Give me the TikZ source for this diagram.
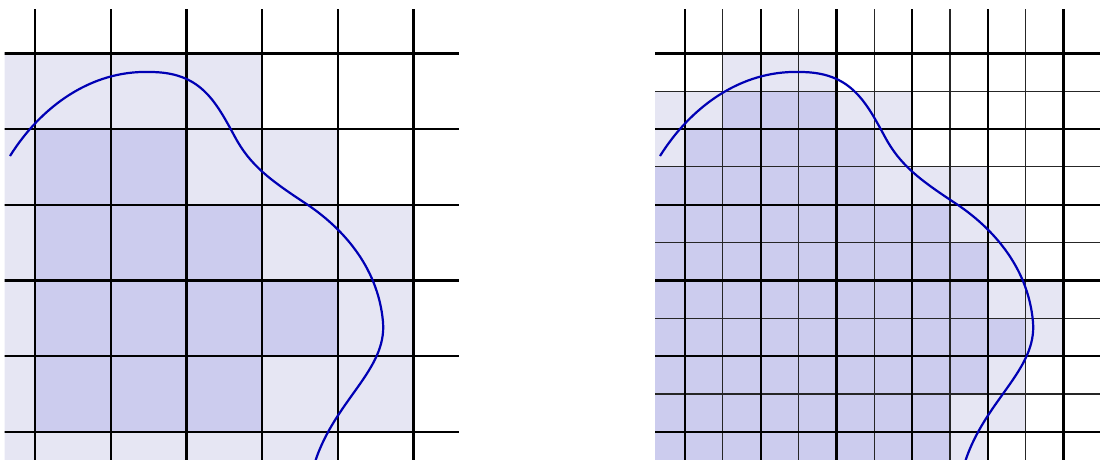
\documentclass[tikz,border=0pt]{standalone}
\definecolor{lightc}{RGB}{230,230,243}
\definecolor{darkc}{RGB}{204,204,238}
\definecolor{curvec}{RGB}{0,0,180}
\tikzset{
  thickgrid/.style={line width=2.4pt, black},
  thingrid/.style={line width=1.1pt, black!85},
  jcurve/.style={line width=2.2pt, curvec, line cap=butt},
}
\newcommand\jordancurve{%
  \draw[jcurve] (10,156) .. controls (40,108) and (90,70) .. (150,72)
    .. controls (200,72) and (215,100) .. (235,137)
    .. controls (250,165) and (270,180) .. (305,203)
    .. controls (340,226) and (378,265) .. (383,322)
    .. controls (387,370) and (335,400) .. (315,462);}
\begin{document}
\begin{tikzpicture}[x=1pt,y=-1pt]
\useasboundingbox (0,0) rectangle (1100,459);
% ---------------- left panel ----------------
\begin{scope}[shift={(35,53.3)}, x=75.7pt, y=-75.7pt]
  \clip (-0.4,-0.58) rectangle (5.6,5.37);
  \fill[lightc] (-1,0) rectangle (3,1);
  \fill[lightc] (-1,1) rectangle (4,2);
  \fill[lightc] (-1,2) rectangle (5,5);
  \fill[lightc] (-1,5) rectangle (4,6);
  \fill[darkc] (0,1) rectangle (2,2);
  \fill[darkc] (0,2) rectangle (3,3);
  \fill[darkc] (0,3) rectangle (4,4);
  \fill[darkc] (0,4) rectangle (3,5);
  \foreach \i in {0,...,5} {
    \draw[thickgrid] (\i,-1) -- (\i,6);
    \draw[thickgrid] (-1,\i) -- (6,\i);
  }
\end{scope}
\begin{scope}
  \clip (4.7,9.4) rectangle (458.9,459);
  \jordancurve
\end{scope}
% ---------------- right panel ----------------
\begin{scope}[shift={(685,53.3)}, x=37.85pt, y=-37.85pt]
  \clip (-0.79,-1.16) rectangle (11.5,10.75);
  \fill[lightc] (1,0) rectangle (4,1);
  \foreach \m/\la/\lb/\da/\db in {1/-1/5/1/3, 2/-1/5/0/4, 3/-2/7/-2/4,
      4/-2/8/-2/6, 5/-2/8/-2/7, 6/-2/9/-2/7, 7/-2/9/-2/8, 8/-2/8/-2/7,
      9/-2/8/-2/6, 10/-2/7/-2/6, 11/-2/7/-2/6} {
    \fill[lightc] (\la,\m) rectangle (\lb+1,\m+1);
    \fill[darkc] (\da,\m) rectangle (\db+1,\m+1);
  }
  \foreach \k in {1,3,5,7,9} {
    \draw[thingrid] (\k,-2) -- (\k,12);
    \draw[thingrid] (-2,\k) -- (12,\k);
  }
  \foreach \k in {0,2,4,6,8,10} {
    \draw[thickgrid] (\k,-2) -- (\k,12);
    \draw[thickgrid] (-2,\k) -- (12,\k);
  }
\end{scope}
\begin{scope}[xshift=650pt]
  \clip (4.7,9.4) rectangle (460,459);
  \jordancurve
\end{scope}
\end{tikzpicture}
\end{document}
